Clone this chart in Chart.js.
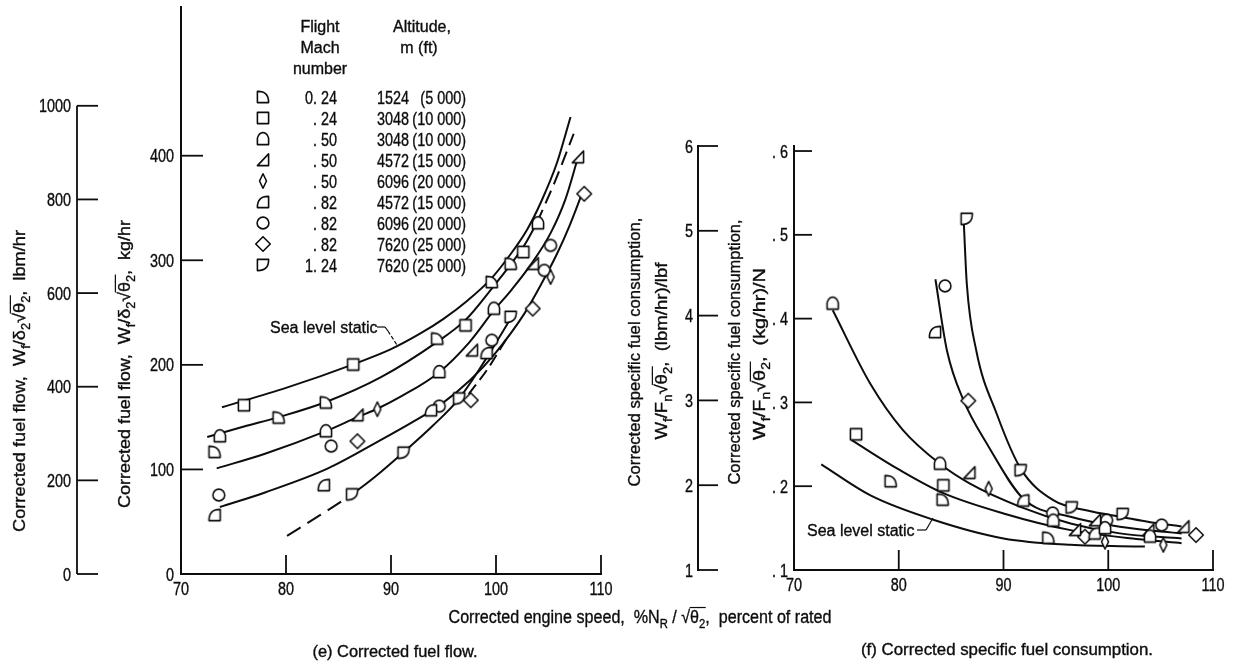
<!DOCTYPE html>
<html><head><meta charset="utf-8">
<script src="https://cdn.jsdelivr.net/npm/chart.js@4.4.1/dist/chart.umd.min.js"></script>
<style>
html,body{margin:0;padding:0;background:#fff;}
#wrap{position:relative;width:1234px;height:667px;overflow:hidden;background:#fff;}
canvas{position:absolute;left:0;top:0;}
</style></head><body>
<div id="wrap"><canvas id="cE" width="1234" height="667" style="width:1234px;height:667px"></canvas><canvas id="cF" width="1234" height="667" style="width:1234px;height:667px"></canvas></div>
<script>
// ---------------- tick labels ----------------
const speedTicks   = [70, 80, 90, 100, 110];
const flowKgTicks  = [0, 100, 200, 300, 400];
const flowLbmTicks = [0, 200, 400, 600, 800, 1000];
const sfcKgTicks   = [0.1, 0.2, 0.3, 0.4, 0.5, 0.6];
const sfcLbmTicks  = [1, 2, 3, 4, 5, 6];

// ---------------- legend ----------------
const machLabels = ['0. 24', '. 24', '. 50', '. 50', '. 50', '. 82', '. 82', '. 82', '1. 24'];
const altMeters  = ['1524', '3048', '3048', '4572', '6096', '4572', '6096', '7620', '7620'];
const altFeet    = ['(5 000)', '(10 000)', '(10 000)', '(15 000)', '(20 000)', '(15 000)', '(20 000)', '(25 000)', '(25 000)'];

// ---------------- (e) corrected fuel flow, kg/hr : [speed %, flow] ----------------
const ffM024A1524 = [[73.2,116.8],[79.3,149.6],[83.8,164.0],[94.4,225.1],[99.6,279.2],[101.4,296.7]];
const ffM024A3048 = [[76.0,161.4],[86.4,200.3],[97.1,237.8],[102.6,307.9]];
const ffM050A3048 = [[73.7,131.8],[83.8,136.6],[94.6,193.2],[99.8,253.8],[104.0,335.5]];
const ffM050A4572 = [[86.8,151.9],[97.7,213.9],[103.5,296.7],[107.8,398.6]];
const ffM050A6096 = [[88.7,157.6],[105.2,284.0]];
const ffM082A4572 = [[73.2,56.4],[83.6,85.0],[93.8,156.6],[99.1,211.4]];
const ffM082A6096 = [[73.6,75.5],[84.3,122.3],[94.6,160.5],[99.6,223.5],[104.6,290.3],[105.2,314.2]];
const ffM082A7620 = [[86.8,127.0],[97.6,166.2],[103.5,253.8],[108.4,363.6]];
const ffM124A7620 = [[86.3,76.1],[91.2,115.9],[96.5,167.8],[101.4,245.8]];

// faired curves (e)
const ffSeaLevel   = [[73.9,159.5],[80,178],[86.4,200.5],[90,215],[92.8,230],[95,244],[97.3,261.6],[99.5,282],[101.4,306],[103,330],[104.3,356],[105.8,393],[107.1,437]];
const ffCurve2     = [[72.5,131],[76,141],[79.3,150],[83.8,164.5],[89,188],[94.4,222],[97.1,243],[99.6,273],[101.4,296],[102.8,316],[103.9,336]];
const ffCurve2Ext  = [[103.9,336],[105.6,375],[107.4,421]];
const ffCurve3     = [[73.4,101],[78,115],[83.8,136.6],[86.8,150],[88.7,158],[91,170],[94.6,193],[97.5,222],[99.8,252],[101.5,272],[103.4,297],[105.2,326],[106.6,358],[107.8,398]];
const ffCurve4     = [[73.7,64],[78,78],[84,101],[89,128],[92,145],[94.6,161],[97.6,186],[100,212],[102.7,249],[104.3,277],[105.8,306],[107,333],[108.2,364]];
const ffCurve5Ext  = [[80.1,36.5],[83.2,56],[86.3,76]];
const ffCurve5     = [[86.3,76],[88.6,94],[91.2,116.5],[94,142],[96.5,168],[99,205],[101.5,246]];
const ffCurve6Ext  = [[97.4,172],[99.2,196],[101,225]];

// ---------------- (f) corrected specific fuel consumption, (kg/hr)/N ----------------
const sfcM024A1524 = [[79.23,0.206],[84.19,0.184],[94.28,0.1385]];
const sfcM024A3048 = [[75.92,0.262],[84.26,0.201]];
const sfcM050A3048 = [[73.69,0.418],[83.94,0.227],[94.75,0.159],[99.69,0.150],[103.99,0.140]];
const sfcM050A4572 = [[86.74,0.216],[96.82,0.148],[98.73,0.1595],[103.82,0.1476],[107.17,0.1516]];
const sfcM050A6096 = [[88.58,0.197],[99.69,0.1337],[105.26,0.130]];
const sfcM082A4572 = [[83.46,0.384],[91.89,0.183],[98.7,0.1437]];
const sfcM082A6096 = [[84.42,0.439],[94.69,0.168],[99.85,0.1595],[105.1,0.1536]];
const sfcM082A7620 = [[86.64,0.302],[97.78,0.1397],[108.38,0.1417]];
const sfcM124A7620 = [[86.49,0.519],[91.64,0.219],[96.51,0.1746],[101.38,0.1667]];

// faired curves (f)
const sfcSeaLevel = [[72.6,0.226],[77.3,0.189],[83.3,0.160],[90,0.1377],[96.4,0.1300],[103.5,0.1280]];
const sfcCurve2   = [[75.5,0.255],[80,0.220],[84.2,0.192],[90,0.1675],[96.4,0.1476],[102.7,0.1370],[107,0.1320]];
const sfcCurve3   = [[73.7,0.410],[77.3,0.322],[80.4,0.267],[83.9,0.227],[86.8,0.203],[91.6,0.1754],[96.4,0.1556],[101.1,0.1437],[107,0.1377]];
const sfcCurve4   = [[83.5,0.447],[84.6,0.362],[86.2,0.302],[88.4,0.251],[91.9,0.185],[96.4,0.1635],[101.1,0.1516],[107,0.1437]];
const sfcCurve5   = [[86.2,0.517],[86.5,0.441],[87.4,0.362],[89.35,0.2865],[91.64,0.221],[94.75,0.1833],[98,0.1710],[101.4,0.1630],[104,0.1570],[107,0.1520]];

// ---------------- helpers ----------------
const FONT = "'Liberation Sans', Arial, sans-serif";
const INK = '#0d0d0d';
const pts = a => a.map(([x, y]) => ({x, y}));

function markerCanvas(kind) {
  const S = 20, c = document.createElement('canvas');
  c.width = S; c.height = S;
  const g = c.getContext('2d');
  g.translate(S / 2, S / 2);
  g.lineWidth = 1.6; g.strokeStyle = INK; g.fillStyle = '#fff'; g.lineJoin = 'round';
  const r = 5.6;
  g.beginPath();
  switch (kind) {
    case 'd1': g.moveTo(-r, -r); g.lineTo(-r, r); g.lineTo(r, r); g.quadraticCurveTo(r * 1.05, -r * 1.05, -r, -r); break;
    case 'sq': g.rect(-r, -r, 2 * r, 2 * r); break;
    case 'dome': g.moveTo(-r, r); g.lineTo(-r, -r * 0.15); g.quadraticCurveTo(-r * 0.75, -r * 1.05, 0, -r * 1.15); g.quadraticCurveTo(r * 0.75, -r * 1.05, r, -r * 0.15); g.lineTo(r, r); break;
    case 'rtri': g.moveTo(-r, r); g.lineTo(r, r); g.lineTo(r, -r * 1.1); break;
    case 'tdia': g.moveTo(0, -r * 1.3); g.lineTo(r * 0.62, 0); g.lineTo(0, r * 1.3); g.lineTo(-r * 0.62, 0); break;
    case 'qcurve': g.moveTo(r, -r); g.lineTo(r, r); g.lineTo(-r, r); g.quadraticCurveTo(-r * 1.05, -r * 1.05, r, -r); break;
    case 'circ': g.arc(0, 0, r * 1.05, 0, Math.PI * 2); break;
    case 'dia': g.moveTo(0, -r * 1.3); g.lineTo(r * 1.3, 0); g.lineTo(0, r * 1.3); g.lineTo(-r * 1.3, 0); break;
    case 'd9': g.moveTo(-r, r); g.lineTo(-r, -r); g.lineTo(r, -r); g.quadraticCurveTo(r * 1.05, r * 1.05, -r, r); break;
  }
  g.closePath(); g.fill(); g.stroke();
  return c;
}
const markerKinds = ['d1', 'sq', 'dome', 'rtri', 'tdia', 'qcurve', 'circ', 'dia', 'd9'];
const markers = markerKinds.map(markerCanvas);

function line(ctx, x1, y1, x2, y2) { ctx.beginPath(); ctx.moveTo(x1, y1); ctx.lineTo(x2, y2); ctx.stroke(); }
function txt(ctx, s, x, y, o = {}) {
  const size = o.size || 16;
  ctx.save(); ctx.translate(x, y); ctx.scale(o.sx || 1, 1);
  ctx.font = size + 'px ' + FONT; ctx.fillStyle = INK; ctx.strokeStyle = INK; ctx.lineWidth = 0.35;
  ctx.textAlign = o.align || 'left'; ctx.textBaseline = 'alphabetic';
  ctx.fillText(s, 0, 0); ctx.strokeText(s, 0, 0); ctx.restore();
}
// rich text: parts {t, sub, over}; centred on (x,y) baseline; optional rotation and fitted length
function rich(ctx, parts, x, y, o = {}) {
  const size = o.size || 17;
  ctx.save(); ctx.translate(x, y); if (o.rot) ctx.rotate(-Math.PI / 2);
  let W = 0;
  parts.forEach(p => { ctx.font = (p.sub ? size * 0.7 : size) + 'px ' + FONT; p.w = ctx.measureText(p.t).width; W += p.w; });
  const sx = o.len ? o.len / W : 1;
  ctx.scale(sx, 1);
  let cx = -W / 2;
  ctx.fillStyle = INK; ctx.strokeStyle = INK; ctx.textAlign = 'left'; ctx.textBaseline = 'alphabetic';
  parts.forEach(p => {
    ctx.font = (p.sub ? size * 0.7 : size) + 'px ' + FONT;
    const dy = p.sub ? size * 0.28 : 0;
    ctx.lineWidth = 0.35;
    ctx.fillText(p.t, cx, dy); ctx.strokeText(p.t, cx, dy);
    ctx.lineWidth = 1.2;
    if (p.over) line(ctx, cx - 0.5, -size * 0.86, cx + p.w + 0.5, -size * 0.86);
    cx += p.w;
  });
  ctx.restore();
}
function flowTitle(unit) {
  return [{t: 'Corrected fuel flow,  W'}, {t: 'f', sub: 1}, {t: '/'}, {t: 'δ'}, {t: '2', sub: 1}, {t: '√'}, {t: 'θ', over: 1}, {t: '2', sub: 1, over: 1}, {t: ',  ' + unit}];
}
function sfcLine2(unit) {
  return [{t: 'W'}, {t: 'f', sub: 1}, {t: '/'}, {t: 'F'}, {t: 'n', sub: 1}, {t: '√'}, {t: 'θ', over: 1}, {t: '2', sub: 1, over: 1}, {t: ',  ' + unit}];
}
const NUM = {size: 18, sx: 0.8};

function markerSet(arr, idx, label) {
  return {label, data: pts(arr), showLine: false, pointStyle: markers[idx], pointRadius: 6, order: 0};
}
function curveSet(arr, dash, label) {
  return {label, data: pts(arr), showLine: true, pointRadius: 0, borderColor: INK, borderWidth: 2,
          borderDash: dash || [], cubicInterpolationMode: 'monotone', fill: false, order: 1};
}
function ticksFrom(list) { return s => { s.ticks = list.map(v => ({value: v})); }; }
function fixW(w) { return s => { s.width = w; s.paddingTop = 0; s.paddingBottom = 0; s.paddingLeft = 0; s.paddingRight = 0; }; }
function fixH(h) { return s => { s.height = h; s.paddingTop = 0; s.paddingBottom = 0; s.paddingLeft = 0; s.paddingRight = 0; }; }
const noGrid = {drawOnChartArea: false, drawTicks: false, color: INK};
const hidTicks = {display: false};

// ---------------- decorations (e) ----------------
const decoE = {
  id: 'decoE',
  afterDraw(chart) {
    const ctx = chart.ctx, {x, y, y2} = chart.scales;
    ctx.save(); ctx.strokeStyle = INK; ctx.lineWidth = 1.8;
    line(ctx, y2.right, y2.getPixelForValue(0), y2.right, y2.getPixelForValue(1000));
    y2.ticks.forEach(t => { const py = y2.getPixelForValue(t.value); ctx.lineWidth = 1.8; line(ctx, y2.right, py, y2.right + 21, py); txt(ctx, String(t.value), y2.right - 6, py + 6.5, {...NUM, align: 'right'}); });
    y.ticks.forEach(t => { const py = y.getPixelForValue(t.value); ctx.lineWidth = 1.8; line(ctx, y.right, py, y.right + 22, py); txt(ctx, String(t.value), y.right - 7, py + 6.5, {...NUM, align: 'right'}); });
    x.ticks.forEach(t => { const px = x.getPixelForValue(t.value); ctx.lineWidth = 1.8; line(ctx, px, x.top, px, x.top - 19); txt(ctx, String(t.value), px, x.top + 21, {...NUM, align: 'center'}); });
    // axis titles
    rich(ctx, flowTitle('lbm/hr'), 25, 381, {rot: 1, size: 17, len: 302});
    rich(ctx, flowTitle('kg/hr'), 130, 364, {rot: 1, size: 17, len: 288});
    rich(ctx, [{t: 'Corrected engine speed,  %N'}, {t: 'R', sub: 1}, {t: ' / '}, {t: '√'}, {t: 'θ', over: 1}, {t: '2', sub: 1, over: 1}, {t: ',  percent of rated'}], 640, 623, {size: 18, len: 383});
    rich(ctx, [{t: '(e) Corrected fuel flow.'}], 395, 657, {size: 16, len: 165});
    // legend
    txt(ctx, 'Flight', 320, 32, {size: 16, align: 'center'});
    txt(ctx, 'Mach', 320, 53, {size: 16, align: 'center'});
    txt(ctx, 'number', 320, 74, {size: 16, align: 'center'});
    txt(ctx, 'Altitude,', 422, 32, {size: 16, align: 'center'});
    txt(ctx, 'm (ft)', 419, 53, {size: 16, align: 'center'});
    machLabels.forEach((m, i) => {
      const cy = 97 + i * 21;
      ctx.drawImage(markers[i], 263 - markers[i].width / 2, cy - markers[i].height / 2);
      txt(ctx, m, 337, cy + 6.5, {...NUM, align: 'right'});
      txt(ctx, altMeters[i], 377, cy + 6.5, {...NUM, align: 'left'});
      txt(ctx, altFeet[i], 466, cy + 6.5, {...NUM, align: 'right'});
    });
    // sea level static label
    txt(ctx, 'Sea level static', 270, 333, {size: 16});
    ctx.lineWidth = 1.2;
    line(ctx, 377, 327, 385, 327); line(ctx, 385, 327, 388, 331);
    ctx.setLineDash([4, 2]); line(ctx, 388, 331, 397, 345); ctx.setLineDash([]);
    ctx.restore();
  }
};

// ---------------- decorations (f) ----------------
const decoF = {
  id: 'decoF',
  afterDraw(chart) {
    const ctx = chart.ctx, {x, y, y2} = chart.scales;
    ctx.save(); ctx.strokeStyle = INK;
    y2.ticks.forEach(t => { const py = y2.getPixelForValue(t.value); ctx.lineWidth = 1.8; line(ctx, y2.right, py, y2.right + 20, py); txt(ctx, String(t.value), y2.right - 5, py + 6.5, {...NUM, align: 'right'}); });
    y.ticks.forEach(t => { const py = y.getPixelForValue(t.value); ctx.lineWidth = 1.8; line(ctx, y.right, py, y.right + 18, py); txt(ctx, '. ' + Math.round(t.value * 10), y.right - 6, py + 6.5, {...NUM, align: 'right'}); });
    x.ticks.forEach(t => { const px = x.getPixelForValue(t.value); ctx.lineWidth = 1.8; line(ctx, px, x.top, px, x.top - 20); txt(ctx, String(t.value), px, x.top + 21, {...NUM, align: 'center'}); });
    rich(ctx, [{t: 'Corrected specific fuel consumption,'}], 640, 352, {rot: 1, size: 17, len: 269});
    rich(ctx, sfcLine2('(lbm/hr)/lbf'), 667, 351, {rot: 1, size: 17, len: 177});
    rich(ctx, [{t: 'Corrected specific fuel consumption,'}], 740, 352, {rot: 1, size: 17, len: 265});
    rich(ctx, sfcLine2('(kg/hr)/N'), 765, 354, {rot: 1, size: 17, len: 172});
    rich(ctx, [{t: '(f) Corrected specific fuel consumption.'}], 1007, 655, {size: 16, len: 292});
    txt(ctx, 'Sea level static', 807, 536, {size: 16});
    ctx.lineWidth = 1.2;
    line(ctx, 917, 530, 926, 530); line(ctx, 926, 530, 933, 518);
    ctx.restore();
  }
};

Chart.defaults.font.family = FONT;
Chart.defaults.color = INK;

// ---------------- chart (e) ----------------
new Chart(document.getElementById('cE'), {
  type: 'line',
  data: {datasets: [
    markerSet(ffM024A1524, 0, 'M0.24 1524 m'), markerSet(ffM024A3048, 1, 'M0.24 3048 m'),
    markerSet(ffM050A3048, 2, 'M0.50 3048 m'), markerSet(ffM050A4572, 3, 'M0.50 4572 m'),
    markerSet(ffM050A6096, 4, 'M0.50 6096 m'), markerSet(ffM082A4572, 5, 'M0.82 4572 m'),
    markerSet(ffM082A6096, 6, 'M0.82 6096 m'), markerSet(ffM082A7620, 7, 'M0.82 7620 m'),
    markerSet(ffM124A7620, 8, 'M1.24 7620 m'),
    curveSet(ffSeaLevel, null, 'Sea level static'), curveSet(ffCurve2), curveSet(ffCurve2Ext, [14, 7]),
    curveSet(ffCurve3), curveSet(ffCurve4), curveSet(ffCurve5Ext, [16, 8]), curveSet(ffCurve5),
    curveSet(ffCurve6Ext, [12, 6])
  ]},
  options: {
    responsive: false, animation: false, events: [],
    layout: {padding: {left: 0, right: 633, top: 6, bottom: 53}},
    plugins: {legend: {display: false}, tooltip: {enabled: false}},
    scales: {
      x: {type: 'linear', position: 'bottom', min: 70, max: 110, ticks: hidTicks, grid: noGrid,
          border: {display: true, color: INK, width: 2}, afterBuildTicks: ticksFrom(speedTicks), afterFit: fixH(40)},
      y: {type: 'linear', position: 'left', weight: 0, min: 0, max: 542.2, ticks: hidTicks, grid: noGrid,
          border: {display: true, color: INK, width: 2}, afterBuildTicks: ticksFrom(flowKgTicks), afterFit: fixW(104)},
      y2: {type: 'linear', position: 'left', weight: 1, min: 0, max: 1211, ticks: hidTicks, grid: noGrid,
          border: {display: false}, afterBuildTicks: ticksFrom(flowLbmTicks), afterFit: fixW(77)}
    }
  },
  plugins: [decoE]
});

// ---------------- chart (f) ----------------
new Chart(document.getElementById('cF'), {
  type: 'line',
  data: {datasets: [
    markerSet(sfcM024A1524, 0, 'M0.24 1524 m'), markerSet(sfcM024A3048, 1, 'M0.24 3048 m'),
    markerSet(sfcM050A3048, 2, 'M0.50 3048 m'), markerSet(sfcM050A4572, 3, 'M0.50 4572 m'),
    markerSet(sfcM050A6096, 4, 'M0.50 6096 m'), markerSet(sfcM082A4572, 5, 'M0.82 4572 m'),
    markerSet(sfcM082A6096, 6, 'M0.82 6096 m'), markerSet(sfcM082A7620, 7, 'M0.82 7620 m'),
    markerSet(sfcM124A7620, 8, 'M1.24 7620 m'),
    curveSet(sfcSeaLevel, null, 'Sea level static'), curveSet(sfcCurve2), curveSet(sfcCurve3),
    curveSet(sfcCurve4), curveSet(sfcCurve5)
  ]},
  options: {
    responsive: false, animation: false, events: [],
    layout: {padding: {left: 617, right: 21, top: 146, bottom: 67}},
    plugins: {legend: {display: false}, tooltip: {enabled: false}},
    scales: {
      x: {type: 'linear', position: 'bottom', min: 70, max: 110, ticks: hidTicks, grid: noGrid,
          border: {display: true, color: INK, width: 2}, afterBuildTicks: ticksFrom(speedTicks), afterFit: fixH(30)},
      y: {type: 'linear', position: 'left', weight: 0, min: 0.1, max: 0.606, ticks: hidTicks, grid: noGrid,
          border: {display: true, color: INK, width: 2}, afterBuildTicks: ticksFrom(sfcKgTicks), afterFit: fixW(96)},
      y2: {type: 'linear', position: 'left', weight: 1, min: 1, max: 6, ticks: hidTicks, grid: noGrid,
          border: {display: true, color: INK, width: 2}, afterBuildTicks: ticksFrom(sfcLbmTicks), afterFit: fixW(81)}
    }
  },
  plugins: [decoF]
});
</script></body></html>
